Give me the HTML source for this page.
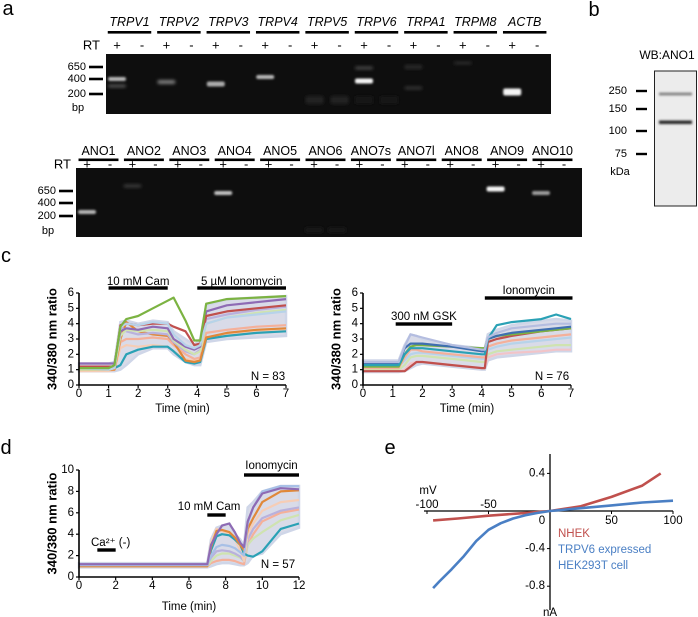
<!DOCTYPE html>
<html><head><meta charset="utf-8">
<style>
html,body{margin:0;padding:0;background:#fff;}
svg{display:block;font-family:"Liberation Sans",Arial,sans-serif;}
</style></head>
<body>
<svg id="fig" width="698" height="617" viewBox="0 0 698 617" xmlns="http://www.w3.org/2000/svg">
<defs>
<filter id="blur1" x="-50%" y="-80%" width="200%" height="260%"><feGaussianBlur stdDeviation="1.6"/></filter>
<filter id="blur2" x="-50%" y="-80%" width="200%" height="260%"><feGaussianBlur stdDeviation="1.0"/></filter>
</defs>
<g id="root"></g>
</svg>
<script>
// ---------- Gel data ----------
const topGenes = ["TRPV1","TRPV2","TRPV3","TRPV4","TRPV5","TRPV6","TRPA1","TRPM8","ACTB"];
const bottomGenes = ["ANO1","ANO2","ANO3","ANO4","ANO5","ANO6","ANO7s","ANO7l","ANO8","ANO9","ANO10"];
// [gene index, lane (0 = +, 1 = -), ladder-relative y, intensity, thickness]
const topBands = [[0,0,79,0.75,4],[0,0,86,0.35,3],[1,0,82,0.5,4],[2,0,84,0.7,5],[3,0,77,0.75,4],
  [4,0,100,0.13,8],[4,1,100,0.13,8],[5,0,81,1.0,5],[5,0,68,0.3,3],[5,0,100,0.1,8],[5,1,100,0.1,8],
  [6,0,67,0.18,4],[6,0,88,0.22,3],[7,0,63,0.18,3],[8,0,92,1.0,7]];
const bottomBands = [[0,0,212,0.75,4],[1,0,186,0.25,3],[3,0,193,0.8,4],[5,0,230,0.08,6],[5,1,230,0.08,6],
  [9,0,189,1.0,5],[10,0,193,0.65,4]];

// ---------- Panel c (left) ----------
const cL_time = [0,1,1.2,1.4,1.6,2,2.5,3,3.2,3.6,3.9,4.1,4.3,5,6,7];
const cL_high = [1.4,1.4,1.5,4.1,4.2,4.0,4.2,4.1,3.5,3.0,2.6,3.0,5.2,5.6,5.7,5.8];
const cL_low  = [0.9,0.9,0.9,1.0,1.3,2.0,2.4,2.4,2.0,1.5,1.3,1.3,2.8,3.0,3.1,3.2];
const cL_s1 = [1.1,1.1,1.3,3.8,4.3,4.5,5.0,5.5,5.7,4.2,2.9,2.9,5.3,5.6,5.7,5.8];
const cL_s2 = [1.1,1.0,1.1,3.8,4.0,3.9,4.1,4.0,3.3,2.6,2.4,2.6,4.0,4.4,4.6,4.8];
const cL_s3 = [1.0,1.0,1.0,2.8,3.0,3.0,3.1,3.0,2.6,2.0,1.7,1.8,3.4,3.6,3.8,3.9];
const cL_s4 = [1.4,1.4,1.4,3.5,3.7,3.6,3.8,3.7,3.0,2.5,2.3,2.5,4.8,5.2,5.4,5.6];
const cL_s5 = [1.2,1.2,1.2,3.9,4.0,3.9,4.0,4.0,3.8,3.5,2.6,2.7,4.5,4.8,5.0,5.2];
const cL_s6 = [1.0,1.0,1.1,3.2,3.6,3.5,3.6,3.5,2.9,2.3,2.0,2.2,4.0,4.4,4.7,4.9];
const cL_s7 = [1.1,1.1,1.1,1.3,2.0,2.3,2.5,2.5,2.2,1.5,1.4,1.5,3.0,3.2,3.4,3.5];
const cL_s8 = [1.0,1.0,1.0,3.0,4.1,3.5,3.3,3.2,2.8,1.6,1.5,1.6,3.1,3.4,3.6,3.7];
const cL_s9 = [1.2,1.2,1.2,3.8,3.5,3.3,3.4,3.3,2.8,2.2,2.0,2.3,4.3,4.6,4.9,5.1];
const cL_s10 = [0.9,0.9,1.0,2.4,2.6,2.5,2.6,2.5,2.2,1.7,1.6,1.7,3.0,3.3,3.5,3.6];

// ---------- Panel c (right) ----------
const cR_time = [0,1.2,1.4,1.6,1.8,2,3,4,4.1,4.2,4.5,5,6,6.5,7];
const cR_high = [1.6,1.6,2.6,3.3,3.2,3.0,2.6,2.4,2.4,3.3,3.6,3.9,4.2,4.3,4.2];
const cR_low  = [0.85,0.85,0.9,1.1,1.3,1.4,1.2,1.0,1.0,1.6,1.8,1.9,2.1,2.2,2.2];
const cR_s1 = [1.5,1.5,2.5,3.3,3.2,3.1,2.6,2.3,2.3,3.1,3.4,3.7,3.9,4.0,4.0];
const cR_s2 = [1.3,1.3,2.0,2.4,2.4,2.4,2.2,2.0,2.0,3.0,3.9,4.1,4.3,4.6,4.3];
const cR_s3 = [1.4,1.4,2.4,2.7,2.7,2.7,2.5,2.2,2.2,3.0,3.2,3.4,3.6,3.7,3.8];
const cR_s4 = [0.9,0.9,0.9,1.2,1.5,1.5,1.3,1.1,1.1,2.8,3.0,3.2,3.5,3.6,3.7];
const cR_s5 = [1.2,1.2,2.0,2.5,2.6,2.6,2.5,2.4,2.4,3.0,3.2,3.3,3.5,3.6,3.7];
const cR_s6 = [1.1,1.1,1.8,2.3,2.3,2.2,2.0,1.8,1.8,2.5,2.7,2.9,3.1,3.2,3.3];
const cR_s7 = [1.0,1.0,1.3,1.8,1.9,1.9,1.7,1.5,1.5,2.0,2.2,2.3,2.5,2.6,2.6];
const cR_s8 = [1.2,1.2,1.6,2.0,2.1,2.1,1.9,1.7,1.7,2.3,2.5,2.7,2.9,3.0,3.1];
const cR_s9 = [0.9,0.9,1.0,1.4,1.5,1.5,1.3,1.1,1.1,1.8,2.0,2.1,2.2,2.3,2.3];

// ---------- Panel d ----------
const d_time = [0,7,7.2,7.5,7.8,8.2,8.5,8.8,9,9.2,9.5,10,11,12];
const d_high = [1.3,1.3,3.5,4.6,4.8,5.0,4.0,3.5,2.9,6.5,7.0,8.0,8.5,8.5];
const d_low  = [0.9,0.9,1.0,1.2,1.3,1.3,1.2,1.1,1.1,1.3,2.0,2.2,4.0,4.6];
const d_s1 = [1.2,1.2,3.0,4.0,4.8,5.0,4.2,3.2,2.8,5.2,6.5,7.8,8.3,8.2];
const d_s2 = [1.1,1.1,2.5,3.8,4.0,3.9,3.5,3.0,2.2,2.0,1.9,2.4,4.5,5.0];
const d_s3 = [1.0,1.0,2.8,4.3,4.4,4.2,3.7,3.0,2.5,4.5,5.5,7.0,8.0,8.1];
const d_s4 = [1.1,1.1,2.0,2.8,3.0,2.9,2.7,2.3,2.0,5.0,6.5,8.0,8.5,8.5];
const d_s5 = [1.0,1.0,3.2,4.5,4.3,4.0,3.5,2.5,1.5,4.0,5.0,6.2,7.0,7.2];
const d_s6 = [1.0,1.0,1.5,2.0,2.2,2.2,2.0,1.8,1.5,3.0,3.6,4.2,5.3,5.8];
const d_s7 = [1.2,1.2,1.8,2.4,2.5,2.4,2.2,1.9,1.5,3.5,4.5,5.5,6.2,6.5];
const d_s8 = [1.0,1.0,1.3,1.5,1.6,1.6,1.5,1.3,1.2,3.0,4.0,5.2,6.0,6.3];

// ---------- Panel e ----------
const e_nhek_mv = [-95,-75,-50,-25,0,25,50,75,90];
const e_nhek_na = [-0.1,-0.08,-0.05,-0.025,0,0.05,0.15,0.27,0.4];
const e_trpv6_mv = [-95,-90,-80,-70,-60,-50,-40,-30,-20,-10,0,25,50,75,100];
const e_trpv6_na = [-0.82,-0.75,-0.62,-0.48,-0.32,-0.2,-0.13,-0.08,-0.045,-0.02,0,0.03,0.06,0.09,0.11];

const NS = "http://www.w3.org/2000/svg";
const root = document.getElementById("root");
function mk(tag, attrs, parent){
  const e = document.createElementNS(NS, tag);
  for (const k in attrs) e.setAttribute(k, attrs[k]);
  (parent||root).appendChild(e);
  return e;
}
function txt(s, x, y, size, opts, parent){
  const o = opts||{};
  const t = mk("text", {x:x, y:y, "font-size":size, fill:o.fill||"#000",
    "text-anchor":o.anchor||"middle", "dominant-baseline":"central"}, parent);
  if (o.italic) t.setAttribute("font-style","italic");
  if (o.bold) t.setAttribute("font-weight","bold");
  if (o.transform) t.setAttribute("transform", o.transform);
  t.textContent = s;
  return t;
}

// panel letters
[["a",8,9],["b",594,10],["c",6,256],["d",6,448],["e",390,448]].forEach(p=>{
  const t = txt(p[0], p[1], p[2], 20, {});
  
  
});

// ---------- gels ----------
function drawGel(genes, bands, cfg, italic){
  const g = mk("g", {});
  
  
  const r = mk("rect", {x:cfg.x0, y:cfg.y0, width:cfg.x1-cfg.x0, height:cfg.y1-cfg.y0, fill:"#0e0e0e"}, g);
  
  
  genes.forEach((gn,i)=>{
    const cx = cfg.c0 + i*cfg.sp;
    const l = txt(gn, cx, cfg.labY, 12.5, {italic:italic}, g);
    
    
    mk("rect", {x:cx-cfg.sp*0.44, y:cfg.ulY, width:cfg.sp*0.88, height:2.6, fill:"#000"}, g);
    txt("+", cx-cfg.off, cfg.rtY, 13, {}, g);
    txt("-", cx+cfg.off, cfg.rtY, 13, {}, g);
  });
  txt("RT", cfg.rtX, cfg.rtY, 13, {anchor:"end"}, g);
  cfg.ladder.forEach(ld=>{
    txt(ld[0], cfg.ladX, ld[1], 11, {anchor:"end"}, g);
    mk("rect", {x:cfg.ladX+3, y:ld[1]-1.3, width:14, height:2.6, fill:"#000"}, g);
  });
  txt("bp", cfg.ladX-8, cfg.bpY, 11, {}, g);
  bands.forEach(b=>{
    const cx = cfg.c0 + b[0]*cfg.sp + (b[1]===0 ? -cfg.off : cfg.off);
    const v = Math.round(245*b[3]);
    const band = mk("rect", {x:cx-9, y:b[2]-b[4]/2, width:18, height:b[4], rx:2,
      fill:"rgb("+v+","+v+","+v+")", filter: b[3]>0.5 ? "url(#blur2)" : "url(#blur1)"}, g);
    
    
  });
}
drawGel(topGenes, topBands, {name:"trp-gel", x0:106, x1:551, y0:54, y1:114, c0:129.5, sp:49.4, off:12.5,
  labY:22, ulY:31, rtY:45, rtX:100, ladX:86, bpY:108, ladder:[["650",67],["400",79],["200",94]]}, true);
drawGel(bottomGenes, bottomBands, {name:"ano-gel", x0:76, x1:582, y0:168, y1:237, c0:98.5, sp:45.4, off:11.5,
  labY:151, ulY:158.5, rtY:164, rtX:71, ladX:56, bpY:231, ladder:[["650",191],["400",203],["200",216]]}, false);

// ---------- western blot ----------
(function(){
  const g = mk("g", {});
  
  
  txt("WB:ANO1", 667, 55, 12, {}, g);
  mk("rect", {x:654.5, y:71, width:42, height:135, fill:"#ececec", stroke:"#222", "stroke-width":1}, g);
  mk("rect", {x:659, y:92.5, width:33, height:3, fill:"#888", filter:"url(#blur2)"}, g);
  mk("rect", {x:659, y:120.5, width:33, height:3.5, fill:"#2a2a2a", filter:"url(#blur2)"}, g);
  [["250",91],["150",109],["100",131],["75",154]].forEach(m=>{
    txt(m[0], 627, m[1], 11, {anchor:"end"}, g);
    mk("rect", {x:636, y:m[1]-1.2, width:11, height:2.4, fill:"#000"}, g);
  });
  txt("kDa", 620, 172, 11, {}, g);
})();

// ---------- calcium imaging plots ----------
function caPlot(cfg){
  const g = mk("g", {});
  
  
  const X = v => cfg.x0 + (v - cfg.xmin)/(cfg.xmax-cfg.xmin)*(cfg.x1-cfg.x0);
  const Y = v => cfg.y0 - (v - cfg.ymin)/(cfg.ymax-cfg.ymin)*(cfg.y0-cfg.y1);
  let pts = cfg.t.map((t,i)=>X(t)+","+Y(cfg.high[i]));
  for (let i=cfg.t.length-1;i>=0;i--) pts.push(X(cfg.t[i])+","+Y(cfg.low[i]));
  const band = mk("polygon", {points:pts.join(" "), fill:"#d9dbe8", stroke:"#cfd6e8", "stroke-width":2.5}, g);
  
  
  cfg.series.forEach((s,k)=>{
    const d = cfg.t.map((t,i)=>(i?"L":"M")+X(t).toFixed(1)+","+Y(s[i]).toFixed(1)).join(" ");
    const p = mk("path", {d:d, fill:"none", stroke:cfg.colors[k%cfg.colors.length], "stroke-width":2.2, "stroke-linejoin":"round"}, g);
    
    
  });
  const ax = mk("path", {d:"M"+cfg.x0+","+cfg.y1+" L"+cfg.x0+","+cfg.y0+" L"+cfg.x1+","+cfg.y0, fill:"none", stroke:"#000", "stroke-width":1.6}, g);
  
  
  cfg.xticks.forEach(v=>{
    mk("line", {x1:X(v), x2:X(v), y1:cfg.y0, y2:cfg.y0+3, stroke:"#000", "stroke-width":1.2}, g);
    const t = txt(String(v), X(v), cfg.y0+9, 11.5, {}, g);
    
    
  });
  cfg.yticks.forEach(v=>{
    mk("line", {x1:cfg.x0-3, x2:cfg.x0, y1:Y(v), y2:Y(v), stroke:"#000", "stroke-width":1.2}, g);
    const t = txt(String(v), cfg.x0-5, Y(v), 11.5, {anchor:"end"}, g);
    
    
  });
  const xt = txt("Time (min)", (cfg.x0+cfg.x1)/2, cfg.xtitleY, 11.5, {}, g);
  
  
  const yt = txt("340/380 nm ratio", cfg.ytitleX, (cfg.y0+cfg.y1)/2, 13, {bold:true,
    transform:"rotate(-90 "+cfg.ytitleX+" "+((cfg.y0+cfg.y1)/2)+")"}, g);
  
  
  cfg.bars.forEach(b=>{
    const r = mk("rect", {x:X(b[0]), y:b[3]-1.7, width:X(b[1])-X(b[0]), height:3.4, fill:"#000"}, g);
    
    
    const t = txt(b[2], b[5]!==undefined ? b[5] : (X(b[0])+X(b[1]))/2, b[4], 11.5, {anchor:b[6]||"middle"}, g);
    
    
  });
  const n = txt(cfg.n, cfg.nX, cfg.nY, 11.5, {}, g);
  
  
  return g;
}
caPlot({name:"chart-c-camphor", x0:79, x1:286, y0:385, y1:293, xmin:0, xmax:7, ymin:0, ymax:6,
  t:cL_time, high:cL_high, low:cL_low,
  series:[cL_s10,cL_s3,cL_s7,cL_s8,cL_s9,cL_s6,cL_s4,cL_s5,cL_s2,cL_s1],
  colors:["#f6cdb5","#f4b09a","#2aa1b5","#e0883a","#b9b1dc","#cfe3b0","#8e6bb4","#c0504d","#b7d3ea","#7cb342"],
  xticks:[0,1,2,3,4,5,6,7], yticks:[0,1,2,3,4,5,6], xtitleY:409, ytitleX:52,
  bars:[[1,3,"10 mM Cam",288,282],[4,7,"5 µM Ionomycin",288,282]], n:"N = 83", nX:268, nY:377});
caPlot({name:"chart-c-gsk", x0:363, x1:571, y0:385, y1:293, xmin:0, xmax:7, ymin:0, ymax:6,
  t:cR_time, high:cR_high, low:cR_low,
  series:[cR_s9,cR_s7,cR_s8,cR_s6,cR_s4,cR_s5,cR_s3,cR_s2,cR_s1],
  colors:["#f2c4c8","#cfe3b0","#b7d3ea","#f4b09a","#c0504d","#7cb342","#3f6fb0","#2aa1b5","#b4bde0"],
  xticks:[0,1,2,3,4,5,6,7], yticks:[0,1,2,3,4,5,6], xtitleY:409, ytitleX:336,
  bars:[[1.1,3,"300 nM GSK",324,317],[4.1,7.05,"Ionomycin",298,291]], n:"N = 76", nX:552, nY:377});
caPlot({name:"chart-d-camphor-ca-free", x0:79, x1:299, y0:577, y1:470, xmin:0, xmax:12, ymin:0, ymax:10,
  t:d_time, high:d_high, low:d_low,
  series:[d_s8,d_s6,d_s7,d_s5,d_s2,d_s3,d_s4,d_s1],
  colors:["#f4b09a","#cfe3b0","#b9b1dc","#f6cdb5","#2aa1b5","#e0883a","#a8c0e6","#8e6bb4"],
  xticks:[0,2,4,6,8,10,12], yticks:[0,2,4,6,8,10], xtitleY:607, ytitleX:52,
  bars:[[1,2,"Ca²⁺ (-)",550,543,91,"start"],[7,8,"10 mM Cam",515,507,209],[9,12,"Ionomycin",475,466]],
  n:"N = 57", nX:278, nY:565});

// ---------- Panel e: I-V curves ----------
(function(){
  const g = mk("g", {});
  
  
  const X = v => 550 + v*1.23;
  const Y = v => 511 - v*94;
  mk("line", {x1:424, x2:673, y1:511, y2:511, stroke:"#000", "stroke-width":1.3}, g);
  mk("line", {x1:550, x2:550, y1:454, y2:610, stroke:"#000", "stroke-width":1.3}, g);
  [0.4,-0.4,-0.8].forEach(v=>{
    mk("line", {x1:547, x2:550, y1:Y(v), y2:Y(v), stroke:"#000"}, g);
    const t = txt(String(v), 545, Y(v), 11.5, {anchor:"end"}, g);
    
    
  });
  [[-100,505],[-50,505],[50,521],[100,521]].forEach(v=>{
    mk("line", {x1:X(v[0]), x2:X(v[0]), y1:511, y2:514, stroke:"#000"}, g);
    const t = txt(String(v[0]), X(v[0]), v[1], 11.5, {}, g);
    
    
  });
  txt("0", 542, 521, 11.5, {}, g);
  const mv = txt("mV", 428, 491, 11.5, {}, g);
  
  
  const na = txt("nA", 550, 613, 11.5, {}, g);
  
  
  const line = (xs, ys, col, name) => {
    const d = xs.map((x,i)=>(i?"L":"M")+X(x).toFixed(1)+","+Y(ys[i]).toFixed(1)).join(" ");
    const p = mk("path", {d:d, fill:"none", stroke:col, "stroke-width":2.6, "stroke-linejoin":"round"}, g);
    
    
  };
  line(e_nhek_mv, e_nhek_na, "#c0504d", "nhek-curve");
  line(e_trpv6_mv, e_trpv6_na, "#4a7fc4", "trpv6-curve");
  const l1 = txt("NHEK", 558, 534, 11.5, {anchor:"start", fill:"#c0504d"}, g);
  
  
  const l2 = txt("TRPV6 expressed", 558, 550, 11.5, {anchor:"start", fill:"#4a7fc4"}, g);
  
  
  const l3 = txt("HEK293T cell", 558, 566, 11.5, {anchor:"start", fill:"#4a7fc4"}, g);
  
  
})();
</script>
</body></html>
